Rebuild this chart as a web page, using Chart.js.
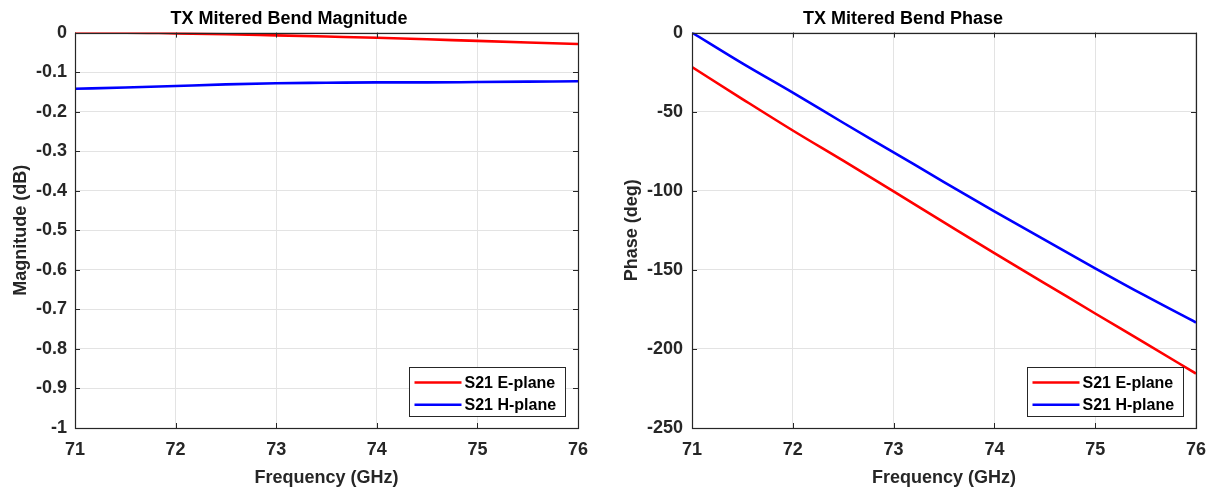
<!DOCTYPE html>
<html><head><meta charset="utf-8">
<script src="https://cdn.jsdelivr.net/npm/chart.js@4"></script>
<style>
html,body{margin:0;padding:0;background:#fff;width:1213px;height:489px;overflow:hidden;position:relative}
.w{position:absolute;top:0;height:489px}
</style></head><body>
<div class="w" style="left:0;width:600px"><canvas id="c1"></canvas></div>
<div class="w" style="left:610px;width:607px"><canvas id="c2"></canvas></div>
<script>
// ---- data ----
const freq = [71, 71.5, 72, 72.5, 73, 73.5, 74, 74.5, 75, 75.5, 76];
const magE = [0, 0, -0.002, -0.004, -0.007, -0.010, -0.013, -0.017, -0.021, -0.025, -0.029];
const magH = [-0.142, -0.139, -0.135, -0.131, -0.128, -0.127, -0.126, -0.126, -0.125, -0.124, -0.123];
const phaseE = [-21.8, -42, -61.9, -81, -100.4, -120, -139.5, -158.5, -177.6, -196.5, -215.6];
const phaseH = [0, -19.5, -38, -57, -75.7, -94.5, -113, -131, -149, -166.5, -183.3];
const seriesLabels = ['S21 E-plane', 'S21 H-plane'];
const seriesColors = ['#ff0000', '#0000ff'];
const freqTicks = [71, 72, 73, 74, 75, 76];
const magTicks = [0, -0.1, -0.2, -0.3, -0.4, -0.5, -0.6, -0.7, -0.8, -0.9, -1];
const phaseTicks = [0, -50, -100, -150, -200, -250];

const FONT = "'Liberation Sans', Arial, sans-serif";
const AX = '#262626';

const boxPlugin = {
  id: 'matlabBox',
  afterDraw(chart) {
    const ctx = chart.ctx, a = chart.chartArea;
    const xs = chart.scales.x, ys = chart.scales.y;
    ctx.save();
    ctx.strokeStyle = AX; ctx.lineWidth = 1;
    ctx.beginPath();
    const tl = 5;
    xs.ticks.forEach(t => {
      const px = Math.round(xs.getPixelForValue(t.value)) + 0.5;
      ctx.moveTo(px, a.bottom); ctx.lineTo(px, a.bottom - tl);
      ctx.moveTo(px, a.top); ctx.lineTo(px, a.top + tl);
    });
    ys.ticks.forEach(t => {
      const py = Math.round(ys.getPixelForValue(t.value)) + 0.5;
      ctx.moveTo(a.left, py); ctx.lineTo(a.left + tl, py);
      ctx.moveTo(a.right, py); ctx.lineTo(a.right - tl, py);
    });
    ctx.stroke();
    ctx.lineWidth = 1.2;
    ctx.strokeRect(Math.round(a.left) + 0.5, Math.round(a.top) + 0.5, Math.round(a.right - a.left), Math.round(a.bottom - a.top));
    // legend
    const w = 156, h = 49;
    const bx = Math.round(a.right - 13 - w) + 0.5, by = Math.round(a.bottom - 12 - h) + 0.5;
    ctx.fillStyle = '#fff';
    ctx.fillRect(bx, by, w, h);
    ctx.strokeStyle = AX; ctx.lineWidth = 1;
    ctx.strokeRect(bx, by, w, h);
    ctx.font = 'bold 16px ' + FONT;
    ctx.textBaseline = 'middle';
    chart.data.datasets.forEach((ds, i) => {
      const cy = by + 15 + i * 22.3;
      ctx.strokeStyle = ds.borderColor; ctx.lineWidth = 2.5;
      ctx.beginPath(); ctx.moveTo(bx + 5, cy); ctx.lineTo(bx + 52, cy); ctx.stroke();
      ctx.fillStyle = '#000';
      ctx.fillText(ds.label, bx + 55, cy + 1);
    });
    ctx.restore();
  }
};

function makeChart(id, title, yTitle, yVals, yTicks, yMin, yMax, yWidth, padRight, tickPad, titlePad, fmt) {
  return new Chart(document.getElementById(id), {
    type: 'line',
    data: {
      datasets: yVals.map((vals, i) => ({
        label: seriesLabels[i],
        data: freq.map((f, j) => ({x: f, y: vals[j]})),
        borderColor: seriesColors[i],
        backgroundColor: seriesColors[i],
        borderWidth: 2.6,
        pointRadius: 0,
        cubicInterpolationMode: 'monotone',
        fill: false
      }))
    },
    options: {
      responsive: true, maintainAspectRatio: false, animation: false, devicePixelRatio: 1,
      layout: {padding: {left: 0, right: padRight, top: 0, bottom: 0}},
      plugins: {
        legend: {display: false},
        tooltip: {enabled: false},
        title: {display: true, text: title, color: '#000',
          font: {family: FONT, size: 18, weight: 'bold'}, padding: {top: 8, bottom: 3}}
      },
      scales: {
        x: {
          type: 'linear', min: 71, max: 76,
          afterBuildTicks: s => { s.ticks = freqTicks.map(v => ({value: v})); },
          afterFit: s => { s.height = 61; },
          ticks: {color: AX, font: {family: FONT, size: 18, weight: 'bold'}, padding: 11, maxRotation: 0},
          grid: {color: '#e3e3e3', drawTicks: false},
          border: {display: false},
          title: {display: true, text: 'Frequency (GHz)', color: AX,
            font: {family: FONT, size: 18, weight: 'bold'}, padding: {top: 0, bottom: 0}}
        },
        y: {
          type: 'linear', min: yMin, max: yMax,
          afterBuildTicks: s => { s.ticks = yTicks.map(v => ({value: v})); },
          afterFit: s => { s.width = yWidth; },
          ticks: {color: AX, font: {family: FONT, size: 18, weight: 'bold'}, padding: tickPad, callback: fmt},
          grid: {color: '#e3e3e3', drawTicks: false},
          border: {display: false},
          title: {display: true, text: yTitle, color: AX,
            font: {family: FONT, size: 18, weight: 'bold'}, padding: {top: titlePad, bottom: 0}}
        }
      }
    },
    plugins: [boxPlugin]
  });
}

makeChart('c1', 'TX Mitered Bend Magnitude', 'Magnitude (dB)', [magE, magH], magTicks, -1, 0, 75, 22, 8, 10,
  v => String(Number(v.toFixed(1))));
makeChart('c2', 'TX Mitered Bend Phase', 'Phase (deg)', [phaseE, phaseH], phaseTicks, -250, 0, 82, 21, 9, 11,
  v => String(Math.round(v)));
</script>
</body></html>
